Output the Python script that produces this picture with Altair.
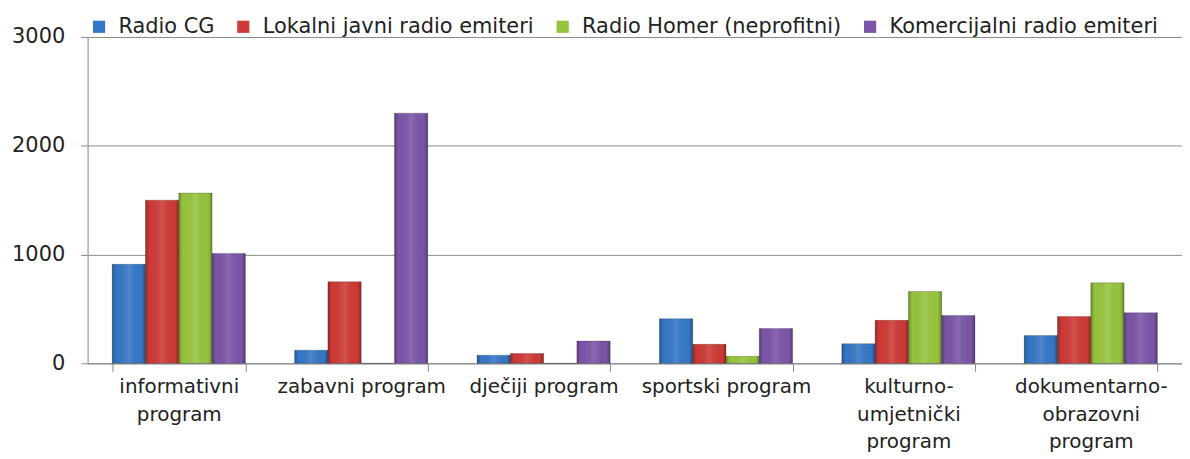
import altair as alt
import pandas as pd

categories = ["informativni program", "zabavni program", "dječiji program",
              "sportski program", "kulturno-umjetnički program", "dokumentarno-obrazovni program"]
label_lines = {
    "informativni program": ["informativni", "program"],
    "zabavni program": ["zabavni program"],
    "dječiji program": ["dječiji program"],
    "sportski program": ["sportski program"],
    "kulturno-umjetnički program": ["kulturno-", "umjetnički", "program"],
    "dokumentarno-obrazovni program": ["dokumentarno-", "obrazovni", "program"],
}
series = ["Radio CG", "Lokalni javni radio emiteri", "Radio Homer (neprofitni)", "Komercijalni radio emiteri"]
radio_cg = [910, 120, 75, 410, 180, 255]
lokalni = [1500, 750, 90, 175, 395, 430]
homer = [1565, 0, 0, 65, 660, 740]
komercijalni = [1010, 2300, 205, 320, 440, 465]
colors = ["#3577C6", "#CE3A36", "#97C43E", "#7B55A8"]
y_ticks = [0, 1000, 2000, 3000]

rows = []
for s, vals in zip(series, [radio_cg, lokalni, homer, komercijalni]):
    for c, v in zip(categories, vals):
        rows.append({"category": c, "series": s, "value": v})
df = pd.DataFrame(rows)

expr = "''"
for c in reversed(categories):
    lines = "[" + ",".join("'" + l + "'" for l in label_lines[c]) + "]"
    expr = f"datum.value == '{c}' ? {lines} : ({expr})"

FONT = "DejaVu Sans"

x_enc = alt.X("category:N", sort=categories, title=None,
              scale=alt.Scale(paddingInner=0.27, paddingOuter=0.135),
              axis=alt.Axis(labelExpr=expr, labelAngle=0, labelFontSize=20, labelFont=FONT,
                            labelColor="#222", labelLineHeight=28, labelPadding=5,
                            tickBand="extent", tickSize=8, tickColor="#888",
                            domainColor="#888", labelBaseline="top"))
y_enc = alt.Y("value:Q", title=None,
              scale=alt.Scale(domain=[0, 3000], nice=False),
              axis=alt.Axis(values=y_ticks, format="d", labelFontSize=21, labelFont=FONT,
                            labelColor="#222", tickSize=7, tickColor="#888", labelPadding=16,
                            gridColor="#8a8a8a", domainColor="#888"))
xo = alt.XOffset("series:N", sort=series, scale=alt.Scale(paddingInner=0.0))

base = alt.Chart(df).encode(x=x_enc, y=y_enc, xOffset=xo)

bars = base.mark_bar(stroke="#00000055", strokeWidth=0.6).encode(
    color=alt.Color("series:N", sort=series,
                    scale=alt.Scale(domain=series, range=colors),
                    legend=alt.Legend(title=None, orient="none", direction="horizontal",
                                      legendX=1, legendY=-21, symbolType="square",
                                      symbolSize=150, labelFontSize=21, labelFont=FONT,
                                      labelColor="#222", columnPadding=18, labelOffset=9,
                                      labelLimit=0, symbolStrokeWidth=0, symbolOpacity=1))
)

shade = alt.Gradient(gradient="linear", x1=0, x2=1, y1=0, y2=0, stops=[
    alt.GradientStop(offset=0, color="rgba(0,0,0,0.28)"),
    alt.GradientStop(offset=0.12, color="rgba(0,0,0,0.0)"),
    alt.GradientStop(offset=0.5, color="rgba(255,255,255,0.12)"),
    alt.GradientStop(offset=0.88, color="rgba(0,0,0,0.0)"),
    alt.GradientStop(offset=1, color="rgba(0,0,0,0.30)"),
])
overlay = base.mark_bar(fill=shade)

chart = alt.layer(bars, overlay).properties(
    width=1100, height=328,
    autosize=alt.AutoSizeParams(type="none"),
    padding={"left": 80, "top": 28, "right": 0, "bottom": 90},
).configure_view(stroke=None).configure_axis(grid=False).configure_axisY(grid=True)

chart.save("out.html", embed_options={"renderer": "svg", "actions": False})
